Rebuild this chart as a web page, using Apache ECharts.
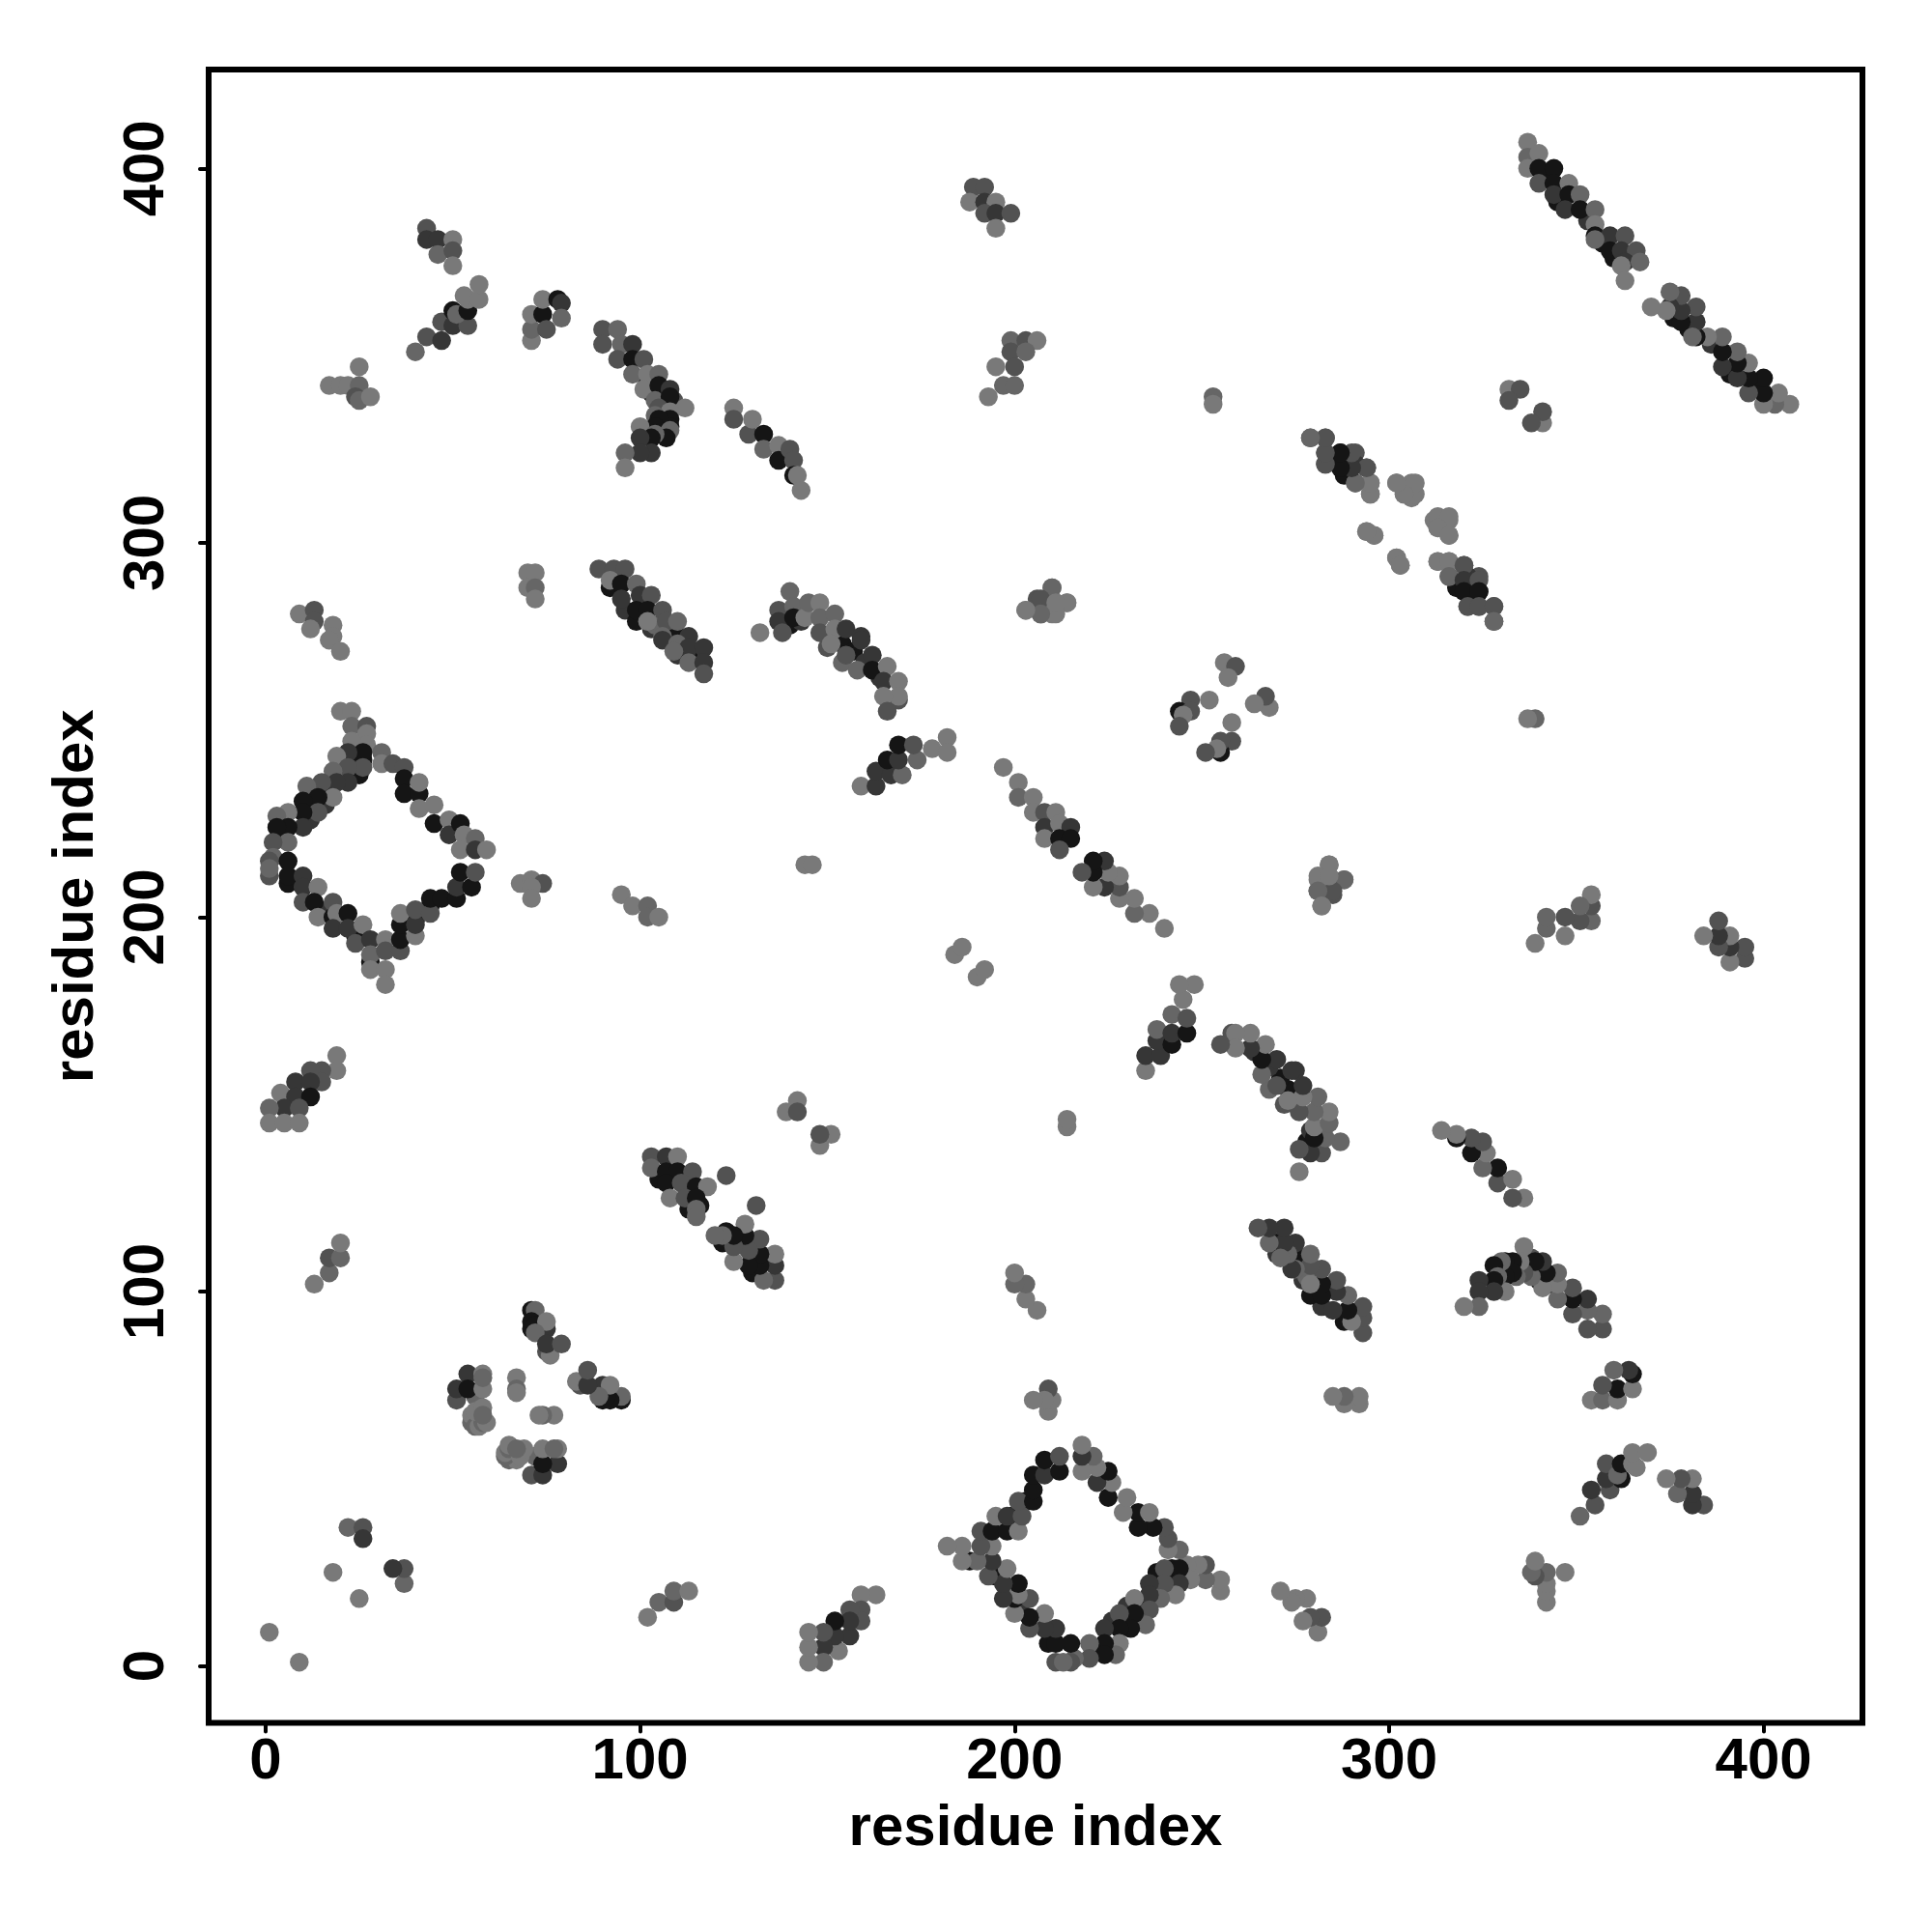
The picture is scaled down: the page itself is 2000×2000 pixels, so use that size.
<!DOCTYPE html>
<html><head><meta charset="utf-8">
<style>html,body{margin:0;padding:0;background:#fff}#c{width:2000px;height:2000px}</style>
<script src="https://cdn.jsdelivr.net/npm/echarts@6/dist/echarts.min.js"></script></head>
<body><div id="c"></div>
<script>
// contact map: each triple is residue i, residue j (i<j), contact strength 1..5
const tickValues=[0,100,200,300,400];
const axisTitle='residue index';
const underlayContacts=[[92,288,5],[96,282,4],[99,279,5],[103,277,4],[106,277,5],[110,275,5],[110,270,4],[113,270,5],[104,278,2],[4,221,5],[12,232,5],[16,234,5],[25,238,5],[26,242,5],[24,241,5],[16,230,4],[12,226,4],[24,195,5],[28,188,5],[17,202,4],[44,203,5],[40,199,5],[6,209,5],[342,398,5],[345,391,5],[353,386,4],[357,380,5],[360,376,5],[289,322,5],[318,288,5],[322,285,5],[102,343,5],[103,340,5],[105,340,5],[106,336,5],[140,278,5],[143,279,4],[150,275,4],[154,273,5],[157,271,5],[160,268,4],[164,264,4],[150,272,3],[154,268,2],[71,90,5],[73,90,5],[56,72,2],[105,130,5],[110,130,5],[113,127,5],[113,122,5],[116,123,5]];
const earlyContacts=[[1,9,1],[18,25,1],[22,37,2],[26,37,3],[26,34,4],[13,102,1],[17,105,2],[17,109,3],[20,109,2],[20,113,1]];
const knotContacts=[[51,71,3],[51,74,4],[54,78,4],[54,74,5],[58,78,1],[58,74,1],[58,77,2],[55,65,2],[55,67,1],[56,64,2],[57,64,1],[58,65,2],[59,65,1],[56,68,1],[58,69,1],[58,67,2],[67,77,1],[67,74,2],[67,73,1],[71,95,5],[72,95,2],[71,92,5],[72,91,5],[75,90,4],[75,92,1],[72,89,2],[75,84,3],[76,83,1],[75,86,4],[79,86,3]];
const farLeftContacts=[[43,384,3],[43,381,4],[46,381,4],[50,381,1],[46,377,2],[50,378,3],[50,374,1],[40,351,2],[43,355,3],[47,354,4],[47,359,3],[50,358,4],[54,358,3],[50,362,5],[51,361,2],[54,362,5],[54,365,1],[53,366,1],[57,365,1],[57,369,1],[17,342,1],[20,342,1],[22,342,1],[25,342,2],[25,347,1],[24,339,3],[25,338,2],[28,339,1],[9,281,1],[13,282,3],[13,279,3],[12,277,1],[18,278,1],[18,275,1],[17,274,1],[20,271,1]];
const midLeftContacts=[[71,354,1],[71,357,2],[71,361,1],[74,361,5],[75,357,3],[74,365,1],[78,365,5],[79,364,4],[79,360,2],[70,292,1],[72,292,1],[70,288,1],[72,288,2],[72,285,1],[68,209,1],[71,210,1],[74,209,3],[71,208,1],[71,205,1],[95,206,1],[98,203,1],[102,203,2],[102,200,2],[105,200,1]];
const strandA=[[90,357,3],[94,357,2],[90,353,3],[95,353,2],[98,353,4],[94,349,3],[98,349,5],[101,349,3],[98,345,2],[102,345,1],[105,345,2],[101,341,1],[105,342,5],[108,341,4],[109,338,3],[112,336,1],[104,338,2],[108,339,5],[105,336,3],[108,335,1],[104,334,2],[108,333,5],[108,331,5],[105,333,5],[104,331,5],[100,331,1],[108,330,2],[107,328,5],[104,329,2],[103,328,5],[100,328,4],[103,324,4],[100,324,4],[96,324,2],[96,320,1]];
const strandB=[[125,336,1],[125,333,3],[129,329,3],[130,333,1],[133,329,5],[133,325,2],[137,326,1],[137,322,5],[140,325,3],[141,322,3],[141,318,5],[142,318,1],[143,314,1]];
const strandC=[[189,395,3],[192,395,3],[188,391,1],[192,391,4],[195,391,1],[192,388,3],[195,388,4],[199,388,3],[195,384,1],[199,354,2],[203,354,3],[206,354,1],[199,351,3],[203,351,2],[200,347,3],[195,347,1],[197,342,2],[200,342,2],[193,339,1],[253,339,2],[253,337,1]];
const strandD=[[279,328,3],[283,328,3],[283,324,3],[287,324,5],[283,321,3],[287,321,5],[291,324,3],[291,321,4],[294,320,4],[291,316,2],[295,316,1],[295,313,1],[302,316,1],[306,316,1],[304,313,1],[306,312,1],[313,307,1],[316,307,1],[313,304,1],[316,302,1],[294,303,1],[296,302,1],[302,296,1],[303,294,1],[313,295,1],[316,295,1],[316,291,2],[320,294,3],[320,290,4],[324,290,3],[320,287,5],[324,287,5],[321,283,3],[324,283,3],[328,283,3],[328,279,2]];
const antiDiagonalTop=[[337,407,1],[337,403,2],[337,400,1],[340,404,1],[340,400,5],[344,400,5],[340,396,3],[344,396,5],[348,396,1],[344,393,4],[348,393,5],[351,393,2],[347,389,4],[351,389,5],[355,389,2],[355,385,1],[355,382,5],[359,382,4],[355,381,2],[363,382,3],[359,378,5],[362,378,4],[366,378,3],[363,375,4],[367,375,2],[362,374,1],[363,370,1],[332,341,1],[335,341,3],[332,338,3]];
const strandE=[[89,293,3],[93,293,3],[96,293,3],[92,290,1],[95,289,5],[99,289,2],[95,285,4],[100,286,4],[103,286,3],[99,282,5],[102,282,5],[106,282,3],[102,279,1],[107,279,3],[110,279,2],[113,275,4],[106,275,2],[106,274,4],[110,273,2],[113,272,4],[117,272,4],[109,271,2],[113,268,2],[117,268,4],[117,265,3]];
const arcContacts=[[132,276,1],[137,282,3],[137,279,4],[138,276,3],[140,287,2],[141,283,2],[141,280,5],[144,280,1],[145,284,2],[148,284,1],[148,280,2],[148,276,3],[152,281,2],[152,277,1],[155,277,4],[159,275,4],[151,273,1],[155,270,3],[159,274,4],[158,266,2],[162,270,4],[162,266,5],[166,267,1],[165,263,4],[169,263,1],[169,258,3],[169,259,1],[165,259,1],[166,255,3],[159,235,1],[163,235,4],[163,239,4],[167,238,4],[166,242,5],[170,238,2],[169,242,4],[169,246,5],[174,242,2],[173,246,3],[178,245,1],[182,248,1],[182,244,1]];
const midContacts=[[210,288,2],[206,285,3],[210,285,1],[214,284,1],[203,282,1],[207,281,3],[210,281,1],[256,268,1],[259,267,3],[257,264,1],[247,258,3],[252,258,1],[244,255,5],[247,255,3],[245,254,1],[244,251,3],[284,214,1],[281,211,1],[288,210,2],[285,207,3],[281,207,2],[282,203,1],[284,211,1],[144,214,1],[146,214,1],[184,190,1],[186,192,1],[139,148,1],[142,151,1],[142,148,3]];
const antiDiagonalCentre=[[197,240,1],[201,236,1],[201,232,2],[205,232,1],[205,228,1],[208,228,3],[211,228,1],[208,224,4],[212,225,1],[215,224,4],[208,221,1],[212,221,5],[215,221,5],[212,218,3]];
const diamondLeft=[[20,255,1],[23,255,1],[23,251,2],[27,251,3],[27,249,1],[27,246,1],[23,247,1],[31,244,2],[31,241,1],[34,241,3],[37,240,3],[26,244,5],[22,244,4],[19,243,1],[26,240,3],[22,240,3],[18,239,2],[22,236,4],[19,236,4],[15,236,3],[11,235,2],[18,232,1],[14,232,5],[10,231,5],[14,228,3],[10,228,5],[6,228,1],[3,227,2],[10,224,4],[6,224,5],[3,224,5],[6,220,2],[2,220,3],[2,216,2],[1,215,3],[6,215,5],[1,211,3],[1,213,2]];
const diamondLower=[[6,211,5],[10,211,4],[10,208,4],[14,208,1],[10,204,3],[13,204,5],[14,200,1],[18,204,3],[18,200,5],[19,201,1],[18,197,4],[22,201,5],[22,197,4],[26,198,1],[24,193,3],[28,194,4],[28,190,2],[32,194,1],[32,191,3],[28,186,1],[32,186,1],[32,182,1],[36,191,3],[36,194,5],[40,195,1],[36,198,5],[36,201,1],[40,198,4],[40,202,3],[44,201,3],[44,205,5],[47,205,5],[51,205,5],[51,208,4],[52,212,5],[55,208,5],[56,212,3]];
const diamondRight=[[37,237,5],[37,233,5],[41,233,5],[41,236,1],[41,229,1],[45,230,1],[45,225,5],[49,226,1],[49,222,4],[52,225,5],[53,222,1],[52,218,1],[56,221,2],[56,218,4],[59,218,1]];
const shortHelix=[[19,163,1],[19,159,1],[15,159,3],[12,159,3],[15,156,3],[8,156,4],[12,156,4],[4,153,1],[8,152,4],[12,152,5],[5,149,4],[1,149,2],[9,149,3],[1,145,1],[5,145,1],[9,145,1]];
const centreCross=[[103,136,3],[107,136,4],[110,136,1],[103,133,2],[107,132,5],[110,132,5],[114,132,3],[107,129,5],[111,129,3],[115,128,5],[118,128,1],[123,131,3],[108,125,1],[112,125,3],[115,125,5],[115,122,2],[115,120,2]];
const strengthColors=['#797979','#666666','#525252','#363636','#151515'];

const contacts=[].concat(underlayContacts,earlyContacts,knotContacts,farLeftContacts,midLeftContacts,strandA,strandB,strandC,strandD,antiDiagonalTop,strandE,arcContacts,midContacts,antiDiagonalCentre,diamondLeft,diamondLower,diamondRight,shortHelix,centreCross);
const points=[];
contacts.forEach(c=>{points.push([c[0],c[1],c[2]]);points.push([c[1],c[0],c[2]]);});

const font='"Liberation Sans",Arial,sans-serif';
function axis(extra){return Object.assign({
  type:'value',min:-15.2,max:426.4,name:axisTitle,nameLocation:'middle',
  nameTextStyle:{fontFamily:font,fontWeight:'bold',fontSize:60,color:'#000'},
  axisLine:{show:false,onZero:false},splitLine:{show:false},
  axisTick:{show:true,length:9,lineStyle:{color:'#000',width:4,cap:'round'},customValues:tickValues},
  axisLabel:{show:true,customValues:tickValues,fontFamily:font,fontWeight:'bold',fontSize:60,color:'#000'}
},extra);}
const chart=echarts.init(document.getElementById('c'),null,{renderer:'canvas',width:2000,height:2000});
const xa=axis({nameGap:80});xa.axisLabel.margin=11;
const ya=axis({nameGap:107});ya.axisLabel.rotate=90;ya.axisLabel.margin=34;
chart.setOption({
  animation:false,backgroundColor:'#fff',
  grid:{left:216,right:72,top:72,bottom:216.5,show:true,borderColor:'#000',borderWidth:6,backgroundColor:'transparent'},
  xAxis:xa,yAxis:ya,
  series:[{type:'scatter',symbol:'circle',symbolSize:19.5,data:points,
    itemStyle:{opacity:1,color:p=>strengthColors[p.value[2]-1]}}]
});
</script></body></html>
